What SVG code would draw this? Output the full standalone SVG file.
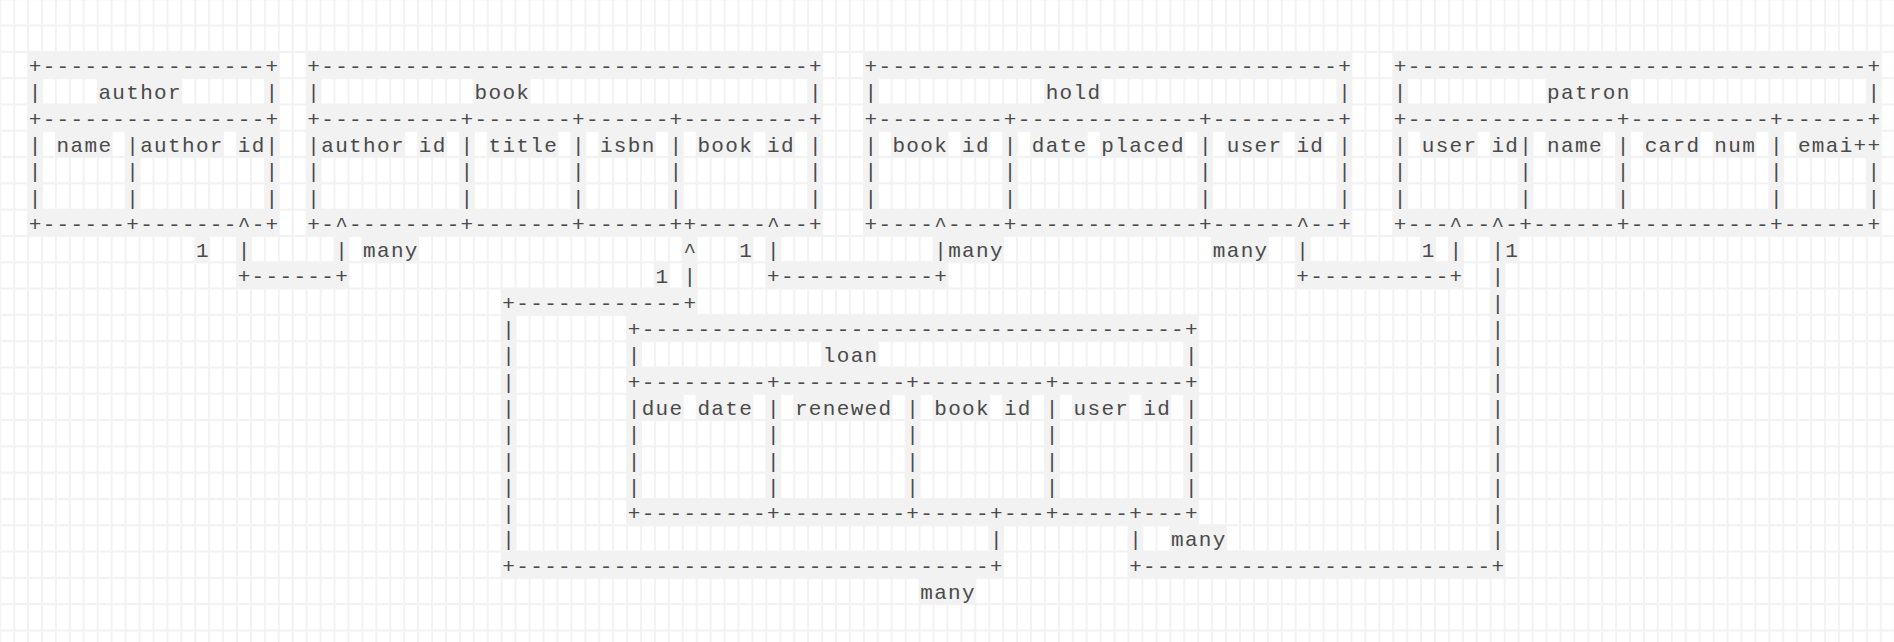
<svg xmlns="http://www.w3.org/2000/svg" width="1894" height="642" viewBox="0 0 1894 642">
<defs>
<pattern id="grid" x="28.07" y="51.85" width="13.93" height="26.3" patternUnits="userSpaceOnUse">
<rect width="13.93" height="26.3" fill="#f2f2f2"/>
<rect x="1" y="1" width="11.93" height="24.3" fill="#ffffff"/>
</pattern>
<style>
.t{font-family:"Liberation Mono","DejaVu Sans Mono",monospace;font-size:21px;letter-spacing:1.33px;fill:#4a4a4a;white-space:pre}
.c{fill:#f2f2f2}
</style>
</defs>
<rect width="1894" height="642" fill="url(#grid)"/>

<g id="author">
<rect class="c" x="28.07" y="51.85" width="250.74" height="26.3"/>
<rect class="c" x="28.07" y="104.45" width="250.74" height="26.3"/>
<rect class="c" x="28.07" y="209.65" width="250.74" height="26.3"/>
<rect class="c" x="28.07" y="51.85" width="13.93" height="184.1"/>
<rect class="c" x="264.88" y="51.85" width="13.93" height="184.1"/>
<rect class="c" x="125.58" y="130.75" width="13.93" height="78.9"/>
<rect class="c" x="97.72" y="78.15" width="83.58" height="26.3"/>
<rect class="c" x="55.93" y="130.75" width="55.72" height="26.3"/>
<rect class="c" x="125.58" y="130.75" width="97.51" height="26.3"/>
<rect class="c" x="237.02" y="130.75" width="27.86" height="26.3"/>
<text class="t" xml:space="preserve" x="28.73" y="73">+----------------+</text>
<text class="t" xml:space="preserve" x="28.73" y="99.3">|    author      |</text>
<text class="t" xml:space="preserve" x="28.73" y="125.6">+----------------+</text>
<text class="t" xml:space="preserve" x="28.73" y="151.9">| name |author id|</text>
<text class="t" xml:space="preserve" x="28.73" y="178.2">|      |         |</text>
<text class="t" xml:space="preserve" x="28.73" y="204.5">|      |         |</text>
<text class="t" xml:space="preserve" x="28.73" y="230.8">+------+-------^-+</text>
</g>

<g id="book">
<rect class="c" x="306.67" y="51.85" width="515.41" height="26.3"/>
<rect class="c" x="306.67" y="104.45" width="515.41" height="26.3"/>
<rect class="c" x="306.67" y="209.65" width="515.41" height="26.3"/>
<rect class="c" x="306.67" y="51.85" width="13.93" height="184.1"/>
<rect class="c" x="808.15" y="51.85" width="13.93" height="184.1"/>
<rect class="c" x="459.9" y="130.75" width="13.93" height="78.9"/>
<rect class="c" x="571.34" y="130.75" width="13.93" height="78.9"/>
<rect class="c" x="668.85" y="130.75" width="13.93" height="78.9"/>
<rect class="c" x="473.83" y="78.15" width="55.72" height="26.3"/>
<rect class="c" x="320.6" y="130.75" width="83.58" height="26.3"/>
<rect class="c" x="418.11" y="130.75" width="27.86" height="26.3"/>
<rect class="c" x="487.76" y="130.75" width="69.65" height="26.3"/>
<rect class="c" x="599.2" y="130.75" width="55.72" height="26.3"/>
<rect class="c" x="696.71" y="130.75" width="55.72" height="26.3"/>
<rect class="c" x="766.36" y="130.75" width="27.86" height="26.3"/>
<text class="t" xml:space="preserve" x="307.33" y="73">+-----------------------------------+</text>
<text class="t" xml:space="preserve" x="307.33" y="99.3">|           book                    |</text>
<text class="t" xml:space="preserve" x="307.33" y="125.6">+----------+-------+------+---------+</text>
<text class="t" xml:space="preserve" x="307.33" y="151.9">|author id | title | isbn | book id |</text>
<text class="t" xml:space="preserve" x="307.33" y="178.2">|          |       |      |         |</text>
<text class="t" xml:space="preserve" x="307.33" y="204.5">|          |       |      |         |</text>
<text class="t" xml:space="preserve" x="307.33" y="230.8">+-^--------+-------+------++-----^--+</text>
</g>

<g id="hold">
<rect class="c" x="863.87" y="51.85" width="487.55" height="26.3"/>
<rect class="c" x="863.87" y="104.45" width="487.55" height="26.3"/>
<rect class="c" x="863.87" y="209.65" width="487.55" height="26.3"/>
<rect class="c" x="863.87" y="51.85" width="13.93" height="184.1"/>
<rect class="c" x="1337.49" y="51.85" width="13.93" height="184.1"/>
<rect class="c" x="1003.17" y="130.75" width="13.93" height="78.9"/>
<rect class="c" x="1198.19" y="130.75" width="13.93" height="78.9"/>
<rect class="c" x="1044.96" y="78.15" width="55.72" height="26.3"/>
<rect class="c" x="891.73" y="130.75" width="55.72" height="26.3"/>
<rect class="c" x="961.38" y="130.75" width="27.86" height="26.3"/>
<rect class="c" x="1031.03" y="130.75" width="55.72" height="26.3"/>
<rect class="c" x="1100.68" y="130.75" width="83.58" height="26.3"/>
<rect class="c" x="1226.05" y="130.75" width="55.72" height="26.3"/>
<rect class="c" x="1295.7" y="130.75" width="27.86" height="26.3"/>
<text class="t" xml:space="preserve" x="864.53" y="73">+---------------------------------+</text>
<text class="t" xml:space="preserve" x="864.53" y="99.3">|            hold                 |</text>
<text class="t" xml:space="preserve" x="864.53" y="125.6">+---------+-------------+---------+</text>
<text class="t" xml:space="preserve" x="864.53" y="151.9">| book id | date placed | user id |</text>
<text class="t" xml:space="preserve" x="864.53" y="178.2">|         |             |         |</text>
<text class="t" xml:space="preserve" x="864.53" y="204.5">|         |             |         |</text>
<text class="t" xml:space="preserve" x="864.53" y="230.8">+----^----+-------------+------^--+</text>
</g>

<g id="patron">
<rect class="c" x="1393.21" y="51.85" width="487.55" height="26.3"/>
<rect class="c" x="1393.21" y="104.45" width="487.55" height="26.3"/>
<rect class="c" x="1393.21" y="209.65" width="487.55" height="26.3"/>
<rect class="c" x="1393.21" y="51.85" width="13.93" height="184.1"/>
<rect class="c" x="1866.83" y="51.85" width="13.93" height="184.1"/>
<rect class="c" x="1518.58" y="130.75" width="13.93" height="78.9"/>
<rect class="c" x="1616.09" y="130.75" width="13.93" height="78.9"/>
<rect class="c" x="1769.32" y="130.75" width="13.93" height="78.9"/>
<rect class="c" x="1546.44" y="78.15" width="83.58" height="26.3"/>
<rect class="c" x="1421.07" y="130.75" width="55.72" height="26.3"/>
<rect class="c" x="1490.72" y="130.75" width="27.86" height="26.3"/>
<rect class="c" x="1546.44" y="130.75" width="55.72" height="26.3"/>
<rect class="c" x="1643.95" y="130.75" width="55.72" height="26.3"/>
<rect class="c" x="1713.6" y="130.75" width="41.79" height="26.3"/>
<rect class="c" x="1797.18" y="130.75" width="83.58" height="26.3"/>
<text class="t" xml:space="preserve" x="1393.87" y="73">+---------------------------------+</text>
<text class="t" xml:space="preserve" x="1393.87" y="99.3">|          patron                 |</text>
<text class="t" xml:space="preserve" x="1393.87" y="125.6">+---------------+----------+------+</text>
<text class="t" xml:space="preserve" x="1393.87" y="151.9">| user id| name | card num | emai++</text>
<text class="t" xml:space="preserve" x="1393.87" y="178.2">|        |      |          |      |</text>
<text class="t" xml:space="preserve" x="1393.87" y="204.5">|        |      |          |      |</text>
<text class="t" xml:space="preserve" x="1393.87" y="230.8">+---^--^-+------+----------+------+</text>
</g>

<g id="loan">
<rect class="c" x="627.06" y="314.85" width="571.13" height="26.3"/>
<rect class="c" x="627.06" y="367.45" width="571.13" height="26.3"/>
<rect class="c" x="627.06" y="498.95" width="571.13" height="26.3"/>
<rect class="c" x="627.06" y="314.85" width="13.93" height="210.4"/>
<rect class="c" x="1184.26" y="314.85" width="13.93" height="210.4"/>
<rect class="c" x="766.36" y="367.45" width="13.93" height="157.8"/>
<rect class="c" x="905.66" y="367.45" width="13.93" height="157.8"/>
<rect class="c" x="1044.96" y="367.45" width="13.93" height="157.8"/>
<rect class="c" x="822.08" y="341.15" width="55.72" height="26.3"/>
<rect class="c" x="640.99" y="393.75" width="41.79" height="26.3"/>
<rect class="c" x="696.71" y="393.75" width="55.72" height="26.3"/>
<rect class="c" x="794.22" y="393.75" width="97.51" height="26.3"/>
<rect class="c" x="933.52" y="393.75" width="55.72" height="26.3"/>
<rect class="c" x="1003.17" y="393.75" width="27.86" height="26.3"/>
<rect class="c" x="1072.82" y="393.75" width="55.72" height="26.3"/>
<rect class="c" x="1142.47" y="393.75" width="27.86" height="26.3"/>
<text class="t" xml:space="preserve" x="627.72" y="336">+---------------------------------------+</text>
<text class="t" xml:space="preserve" x="627.72" y="362.3">|             loan                      |</text>
<text class="t" xml:space="preserve" x="627.72" y="388.6">+---------+---------+---------+---------+</text>
<text class="t" xml:space="preserve" x="627.72" y="414.9">|due date | renewed | book id | user id |</text>
<text class="t" xml:space="preserve" x="627.72" y="441.2">|         |         |         |         |</text>
<text class="t" xml:space="preserve" x="627.72" y="467.5">|         |         |         |         |</text>
<text class="t" xml:space="preserve" x="627.72" y="493.8">|         |         |         |         |</text>
<text class="t" xml:space="preserve" x="627.72" y="520.1">+---------+---------+-----+---+-----+---+</text>
</g>

<g id="connectors">
<g id="author-book">
<rect class="c" x="195.23" y="235.95" width="13.93" height="26.3"/>
<rect class="c" x="237.02" y="235.95" width="13.93" height="52.6"/>
<rect class="c" x="334.53" y="235.95" width="13.93" height="52.6"/>
<rect class="c" x="362.39" y="235.95" width="55.72" height="26.3"/>
<rect class="c" x="237.02" y="262.25" width="111.44" height="26.3"/>
<text class="t" xml:space="preserve" x="195.89" y="257.1">1  |      | many</text>
<text class="t" xml:space="preserve" x="237.68" y="283.4">+------+</text>
</g>
<g id="book-loan">
<rect class="c" x="682.78" y="235.95" width="13.93" height="78.9"/>
<rect class="c" x="654.92" y="262.25" width="13.93" height="26.3"/>
<rect class="c" x="501.69" y="288.55" width="195.02" height="26.3"/>
<rect class="c" x="501.69" y="288.55" width="13.93" height="289.3"/>
<rect class="c" x="501.69" y="551.55" width="501.48" height="26.3"/>
<rect class="c" x="989.24" y="525.25" width="13.93" height="52.6"/>
<rect class="c" x="919.59" y="577.85" width="55.72" height="26.3"/>
<text class="t" xml:space="preserve" x="683.44" y="257.1">^</text>
<text class="t" xml:space="preserve" x="655.58" y="283.4">1 |</text>
<text class="t" xml:space="preserve" x="502.35" y="309.7">+------------+</text>
<text class="t" x="502.35" y="336">|</text>
<text class="t" x="502.35" y="362.3">|</text>
<text class="t" x="502.35" y="388.6">|</text>
<text class="t" x="502.35" y="414.9">|</text>
<text class="t" x="502.35" y="441.2">|</text>
<text class="t" x="502.35" y="467.5">|</text>
<text class="t" x="502.35" y="493.8">|</text>
<text class="t" x="502.35" y="520.1">|</text>
<text class="t" x="502.35" y="546.4">|</text>
<text class="t" x="989.9" y="546.4">|</text>
<text class="t" xml:space="preserve" x="502.35" y="572.7">+----------------------------------+</text>
<text class="t" x="920.25" y="599">many</text>
</g>
<g id="book-hold">
<rect class="c" x="738.5" y="235.95" width="13.93" height="26.3"/>
<rect class="c" x="766.36" y="235.95" width="13.93" height="52.6"/>
<rect class="c" x="933.52" y="235.95" width="69.65" height="26.3"/>
<rect class="c" x="766.36" y="262.25" width="181.09" height="26.3"/>
<text class="t" xml:space="preserve" x="739.16" y="257.1">1 |           |many</text>
<text class="t" xml:space="preserve" x="767.02" y="283.4">+-----------+</text>
</g>
<g id="hold-patron">
<rect class="c" x="1212.12" y="235.95" width="55.72" height="26.3"/>
<rect class="c" x="1295.7" y="235.95" width="13.93" height="52.6"/>
<rect class="c" x="1421.07" y="235.95" width="13.93" height="26.3"/>
<rect class="c" x="1448.93" y="235.95" width="13.93" height="52.6"/>
<rect class="c" x="1295.7" y="262.25" width="167.16" height="26.3"/>
<text class="t" xml:space="preserve" x="1212.78" y="257.1">many  |        1 |</text>
<text class="t" xml:space="preserve" x="1296.36" y="283.4">+----------+</text>
</g>
<g id="patron-loan">
<rect class="c" x="1490.72" y="235.95" width="27.86" height="26.3"/>
<rect class="c" x="1490.72" y="235.95" width="13.93" height="341.9"/>
<rect class="c" x="1128.54" y="525.25" width="13.93" height="52.6"/>
<rect class="c" x="1170.33" y="525.25" width="55.72" height="26.3"/>
<rect class="c" x="1128.54" y="551.55" width="376.11" height="26.3"/>
<text class="t" xml:space="preserve" x="1491.38" y="257.1">|1</text>
<text class="t" x="1491.38" y="283.4">|</text>
<text class="t" x="1491.38" y="309.7">|</text>
<text class="t" x="1491.38" y="336">|</text>
<text class="t" x="1491.38" y="362.3">|</text>
<text class="t" x="1491.38" y="388.6">|</text>
<text class="t" x="1491.38" y="414.9">|</text>
<text class="t" x="1491.38" y="441.2">|</text>
<text class="t" x="1491.38" y="467.5">|</text>
<text class="t" x="1491.38" y="493.8">|</text>
<text class="t" x="1491.38" y="520.1">|</text>
<text class="t" x="1491.38" y="546.4">|</text>
<text class="t" xml:space="preserve" x="1129.2" y="546.4">|  many</text>
<text class="t" xml:space="preserve" x="1129.2" y="572.7">+-------------------------+</text>
</g>
</g>
</svg>
